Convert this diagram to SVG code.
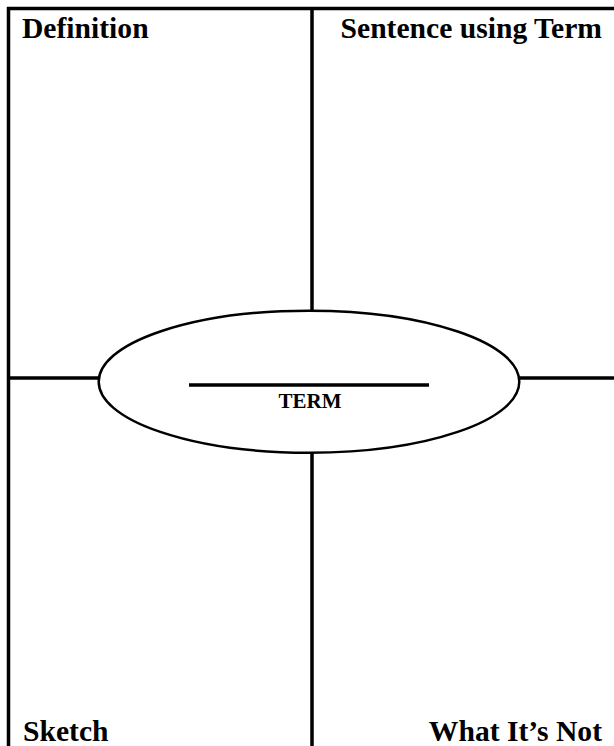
<svg xmlns="http://www.w3.org/2000/svg" width="614" height="746" viewBox="0 0 614 746">
<style>
.ln{stroke:#000;stroke-width:3.5;fill:none}
.lbl{font-family:"Liberation Serif","Times New Roman",serif;font-weight:bold;font-size:29.6px;fill:#000}
.term{font-family:"Liberation Serif","Times New Roman",serif;font-weight:bold;font-size:21px;fill:#000}
</style>
<rect width="614" height="746" fill="#fff"/>
<g id="connectors">
<line class="ln" x1="7" y1="8.5" x2="614" y2="8.5"/>
<line class="ln" x1="8.5" y1="7" x2="8.5" y2="746"/>
<line class="ln" x1="312" y1="8.5" x2="312" y2="311"/>
<line class="ln" x1="312" y1="452" x2="312" y2="746"/>
<line class="ln" x1="8.5" y1="378" x2="99" y2="378"/>
<line class="ln" x1="518" y1="378" x2="614" y2="378"/>
</g>
<g id="definition"><text class="lbl" x="22" y="38">Definition</text></g>
<g id="sentence"><text class="lbl" x="602" y="38" text-anchor="end">Sentence using Term</text></g>
<g id="sketch"><text class="lbl" x="23" y="741">Sketch</text></g>
<g id="whatnot"><text class="lbl" x="602" y="741" text-anchor="end">What It’s Not</text></g>
<g id="term">
<ellipse cx="309" cy="381.7" rx="210.3" ry="71" fill="#fff" stroke="#000" stroke-width="2.5"/>
<line class="ln" x1="189" y1="385" x2="429" y2="385"/>
<text class="term" x="310" y="408" text-anchor="middle">TERM</text>
</g>
</svg>
